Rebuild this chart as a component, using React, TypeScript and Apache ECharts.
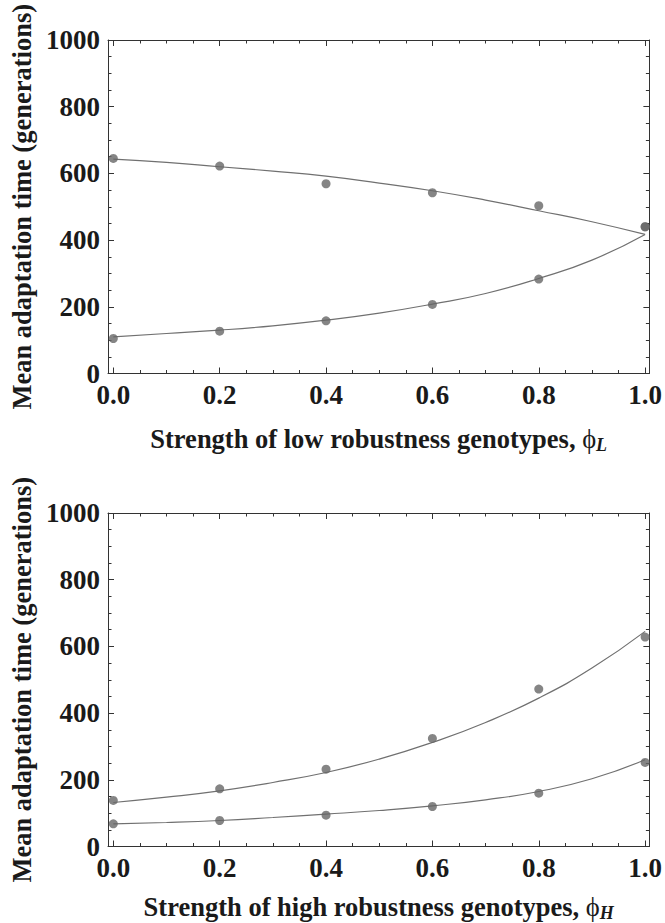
import React, { useEffect, useRef } from "react";
import * as echarts from "echarts";

// ---- data ----
const simPhi = [0, 0.2, 0.4, 0.6, 0.8, 1.0];
const curvePhi = [0, 0.1, 0.2, 0.3, 0.4, 0.5, 0.6, 0.7, 0.8, 0.9, 1.0];

// top panel (phi_L)
const topUpperSim = [645, 622, 569, 542, 503, 440];
const topLowerSim = [105, 127, 158, 207, 283, 440];
const topUpperCurve = [643, 633, 620, 607, 592, 571, 548, 520, 488, 455, 417];
const topLowerCurve = [110, 120, 130, 143, 160, 181, 208, 240, 285, 340, 417];

// bottom panel (phi_H)
const botUpperSim = [138, 173, 232, 324, 472, 628];
const botLowerSim = [68, 78, 94, 120, 160, 252];
const botUpperCurve = [132, 148, 167, 192, 222, 262, 312, 372, 445, 535, 645];
const botLowerCurve = [68, 72, 78, 87, 97, 108, 122, 140, 165, 203, 260];

// ticks
const xMajorTicks = [0, 0.2, 0.4, 0.6, 0.8, 1.0];
const xMinorTicks = [0.05, 0.1, 0.15, 0.25, 0.3, 0.35, 0.45, 0.5, 0.55, 0.65, 0.7, 0.75, 0.85, 0.9, 0.95];
const yMin = 0;
const yMax = 1000;
const yStep = 200;

const yTitle = "Mean adaptation time (generations)";
const xTitleTop = "Strength of low robustness genotypes, {phi|ϕ}{sub|L}";
const xTitleBot = "Strength of high robustness genotypes, {phi|ϕ}{sub|H}";

const XMIN = -0.01;
const XMAX = 1.008;
const FONT = "Liberation Serif";
const AXIS_COLOR = "#333";
const TEXT_COLOR = "#1a1a1a";
const TICK_FS = 27;
const TITLE_FS = 26.5;

const pairs = (xs: number[], ys: number[]) => xs.map((x, i) => [x, ys[i]]);

function xAxesFor(gridIndex: number, name: string, nameGap: number) {
  const base = {
    type: "value",
    gridIndex,
    min: XMIN,
    max: XMAX,
    splitLine: { show: false },
  };
  const titleStyle = {
    fontFamily: FONT,
    fontWeight: "bold",
    fontSize: TITLE_FS,
    color: TEXT_COLOR,
    lineHeight: 30,
    rich: {
      phi: { fontFamily: FONT, fontWeight: "normal", fontSize: TITLE_FS, color: TEXT_COLOR, lineHeight: 30 },
      sub: {
        fontFamily: FONT,
        fontWeight: "bold",
        fontStyle: "italic",
        fontSize: 18,
        color: TEXT_COLOR,
        lineHeight: 18,
        verticalAlign: "bottom",
      },
    },
  };
  return [
    {
      ...base,
      position: "bottom",
      axisLine: { show: true, onZero: false, lineStyle: { color: AXIS_COLOR, width: 1 } },
      axisTick: { show: true, inside: true, length: 6, customValues: xMajorTicks, lineStyle: { color: AXIS_COLOR } },
      axisLabel: {
        show: true,
        customValues: xMajorTicks,
        formatter: (v: number) => v.toFixed(1),
        margin: 8,
        fontFamily: FONT,
        fontWeight: "bold",
        fontSize: TICK_FS,
        color: TEXT_COLOR,
      },
      name,
      nameLocation: "middle",
      nameGap,
      nameTextStyle: titleStyle,
    },
    {
      ...base,
      position: "bottom",
      axisLine: { show: false, onZero: false },
      axisTick: { show: true, inside: true, length: 3.5, customValues: xMinorTicks, lineStyle: { color: AXIS_COLOR } },
      axisLabel: { show: false },
    },
    {
      ...base,
      position: "top",
      axisLine: { show: true, onZero: false, lineStyle: { color: AXIS_COLOR, width: 1 } },
      axisTick: { show: true, inside: true, length: 6, customValues: xMajorTicks, lineStyle: { color: AXIS_COLOR } },
      axisLabel: { show: false },
    },
    {
      ...base,
      position: "top",
      axisLine: { show: false, onZero: false },
      axisTick: { show: true, inside: true, length: 3.5, customValues: xMinorTicks, lineStyle: { color: AXIS_COLOR } },
      axisLabel: { show: false },
    },
  ];
}

function yAxesFor(gridIndex: number) {
  const base = {
    type: "value",
    gridIndex,
    min: yMin,
    max: yMax,
    interval: yStep,
    splitLine: { show: false },
    minorSplitLine: { show: false },
    axisLine: { show: true, onZero: false, lineStyle: { color: AXIS_COLOR, width: 1 } },
    axisTick: { show: true, inside: true, length: 6, lineStyle: { color: AXIS_COLOR } },
    minorTick: { show: true, splitNumber: 4, length: 3.5, lineStyle: { color: AXIS_COLOR } },
  };
  return [
    {
      ...base,
      position: "left",
      axisLabel: {
        show: true,
        margin: 8,
        formatter: (v: number) => String(v),
        fontFamily: FONT,
        fontWeight: "bold",
        fontSize: TICK_FS,
        color: TEXT_COLOR,
      },
      name: yTitle,
      nameLocation: "middle",
      nameGap: 73,
      nameTextStyle: { fontFamily: FONT, fontWeight: "bold", fontSize: TITLE_FS, color: TEXT_COLOR },
    },
    {
      ...base,
      position: "right",
      axisLabel: { show: false },
    },
  ];
}

function seriesFor(xAxisIndex: number, yAxisIndex: number, curves: number[][], sims: number[][]) {
  const out: any[] = [];
  curves.forEach((c) => {
    out.push({
      type: "line",
      xAxisIndex,
      yAxisIndex,
      data: pairs(curvePhi, c),
      smooth: true,
      showSymbol: false,
      symbol: "none",
      lineStyle: { color: "#707070", width: 1.2 },
      z: 2,
    });
  });
  sims.forEach((s) => {
    out.push({
      type: "scatter",
      xAxisIndex,
      yAxisIndex,
      data: pairs(simPhi, s),
      symbol: "circle",
      symbolSize: 9,
      itemStyle: { color: "#666666" },
      z: 3,
    });
  });
  return out;
}

export default function App() {
  const ref = useRef<HTMLDivElement>(null);
  useEffect(() => {
    if (!ref.current) return;
    const chart = echarts.init(ref.current, undefined, { renderer: "svg" });
    chart.setOption({
      animation: false,
      backgroundColor: "#ffffff",
      grid: [
        { left: 108, top: 40, width: 543, height: 333.5 },
        { left: 108, top: 513, width: 543, height: 333.5 },
      ],
      xAxis: [...xAxesFor(0, xTitleTop, 50), ...xAxesFor(1, xTitleBot, 45)],
      yAxis: [...yAxesFor(0), ...yAxesFor(1)],
      series: [
        ...seriesFor(0, 0, [topUpperCurve, topLowerCurve], [topUpperSim, topLowerSim]),
        ...seriesFor(4, 2, [botUpperCurve, botLowerCurve], [botUpperSim, botLowerSim]),
      ],
    });
    return () => chart.dispose();
  }, []);
  return (
    <div
      ref={ref}
      style={{ position: "absolute", left: 0, top: 0, width: 665, height: 923, background: "#fff" }}
    />
  );
}
